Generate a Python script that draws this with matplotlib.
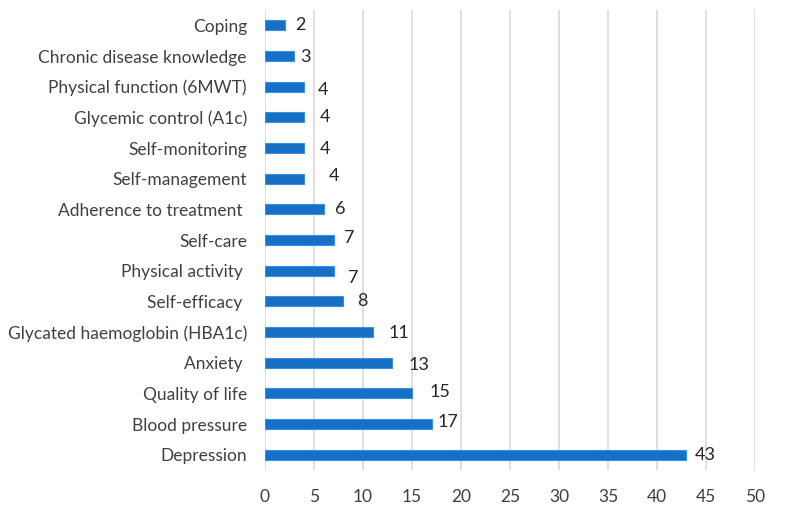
import matplotlib.pyplot as plt

# data, top to bottom as in the chart
categories = [
    "Coping",
    "Chronic disease knowledge",
    "Physical function (6MWT)",
    "Glycemic control (A1c)",
    "Self-monitoring",
    "Self-management",
    "Adherence to treatment ",
    "Self-care",
    "Physical activity ",
    "Self-efficacy ",
    "Glycated haemoglobin (HBA1c)",
    "Anxiety ",
    "Quality of life",
    "Blood pressure",
    "Depression",
]
counts = [2, 3, 4, 4, 4, 4, 6, 7, 7, 8, 11, 13, 15, 17, 43]
x_ticks = list(range(0, 51, 5))

# value labels are placed a bit irregularly in the original (pixels: dx, dy)
label_nudge = [
    (16, 0), (11, -1), (19, -3), (21, 0), (21, -1), (30, 3), (16, 0),
    (16, 2), (20, -7), (19, 0), (26, -1), (27, -2), (28, 1), (16, 2), (19, 0),
]

BAR = "#1570C6"
EDGE = "#3A8FE0"
TXT = "#404040"

plt.rcParams["font.family"] = ["Lato", "DejaVu Sans"]

fig = plt.figure(figsize=(8, 5.11), dpi=100)
ax = fig.add_axes([265 / 800, 41 / 511, 490 / 800, 460 / 511])

ypos = list(range(len(categories)))
ax.barh(ypos, counts, height=0.33, color=BAR, edgecolor=EDGE, linewidth=0.8, zorder=3)

for y, v, (dx, dy) in zip(ypos, counts, label_nudge):
    ax.annotate(str(v), (v, y), xytext=(dx, dy), textcoords="offset pixels",
                ha="center", va="center", fontsize=13, color="#262626")

ax.set_xlim(0, 50)
ax.set_ylim(len(categories) - 0.5, -0.5)
ax.set_xticks(x_ticks)
ax.set_yticks(ypos)
ax.set_yticklabels(categories)

ax.xaxis.grid(True, color="#D9D9D9", linewidth=1.2, zorder=0)
ax.set_axisbelow(True)
for s in ax.spines.values():
    s.set_visible(False)
ax.tick_params(axis="both", length=0, labelsize=12.5, labelcolor=TXT)
ax.tick_params(axis="x", pad=14)
ax.tick_params(axis="y", pad=13)

fig.savefig("out.png", dpi=100, facecolor="white")
